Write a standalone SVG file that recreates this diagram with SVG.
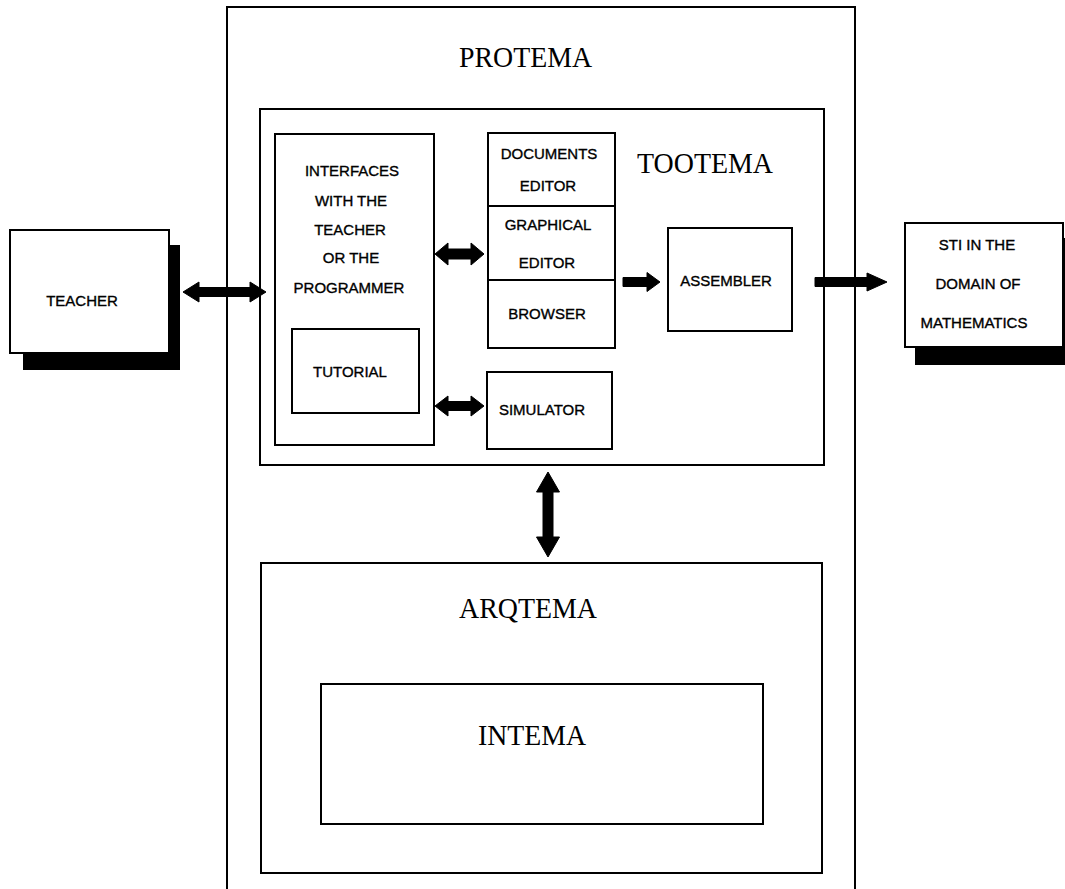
<svg xmlns="http://www.w3.org/2000/svg" width="1065" height="889" viewBox="0 0 1065 889">
<style>
.box{fill:#fff;stroke:#000;stroke-width:2}
.open{fill:none;stroke:#000;stroke-width:2}
.shadow{fill:#000}
.s{font-family:"Liberation Sans",Arial,sans-serif;font-size:15px;fill:#000;stroke:#000;stroke-width:0.35;text-anchor:middle}
.t{font-family:"Liberation Serif","Times New Roman",serif;font-size:30px;fill:#000;text-anchor:middle}
.arrow{fill:#000;stroke:#000;stroke-width:1;stroke-linejoin:round}
</style>
<rect width="1065" height="889" fill="#fff"/>
<g id="protema">
<rect class="open" x="227" y="7" width="628" height="895"/>
<text class="t" x="525.5" y="67" textLength="133" lengthAdjust="spacingAndGlyphs">PROTEMA</text>
</g>
<g id="tootema">
<rect class="box" x="260" y="109" width="564" height="356"/>
<text class="t" x="705" y="173" textLength="136" lengthAdjust="spacingAndGlyphs">TOOTEMA</text>
</g>
<g id="interfaces">
<rect class="box" x="275" y="134" width="159" height="311"/>
<text class="s" x="352" y="176">INTERFACES</text>
<text class="s" x="351" y="206">WITH THE</text>
<text class="s" x="350" y="235">TEACHER</text>
<text class="s" x="351" y="263">OR THE</text>
<text class="s" x="349" y="293">PROGRAMMER</text>
</g>
<g id="tutorial">
<rect class="box" x="292" y="329" width="127" height="84"/>
<text class="s" x="350" y="377">TUTORIAL</text>
</g>
<g id="documents-editor">
<rect class="box" x="488" y="133" width="127" height="73"/>
<text class="s" x="549" y="159">DOCUMENTS</text>
<text class="s" x="548" y="191">EDITOR</text>
</g>
<g id="graphical-editor">
<rect class="box" x="488" y="206" width="127" height="74"/>
<text class="s" x="548" y="230">GRAPHICAL</text>
<text class="s" x="547" y="268">EDITOR</text>
</g>
<g id="browser">
<rect class="box" x="488" y="280" width="127" height="68"/>
<text class="s" x="547" y="319">BROWSER</text>
</g>
<g id="simulator">
<rect class="box" x="487" y="372" width="125" height="77"/>
<text class="s" x="542" y="415">SIMULATOR</text>
</g>
<g id="assembler">
<rect class="box" x="668" y="228" width="124" height="103"/>
<text class="s" x="726" y="286">ASSEMBLER</text>
</g>
<g id="teacher">
<rect class="shadow" x="23" y="245" width="157" height="125"/>
<rect class="box" x="10" y="230" width="159" height="123"/>
<text class="s" x="82" y="306">TEACHER</text>
</g>
<g id="sti">
<rect class="shadow" x="915" y="238" width="160" height="127"/>
<rect class="box" x="905" y="223" width="158" height="124"/>
<text class="s" x="977" y="250">STI IN THE</text>
<text class="s" x="978" y="289">DOMAIN OF</text>
<text class="s" x="974" y="328">MATHEMATICS</text>
</g>
<g id="arqtema">
<rect class="box" x="261" y="563" width="561" height="310"/>
<text class="t" x="528" y="618" textLength="138" lengthAdjust="spacingAndGlyphs">ARQTEMA</text>
</g>
<g id="intema">
<rect class="box" x="321" y="684" width="442" height="140"/>
<text class="t" x="532" y="745" textLength="108" lengthAdjust="spacingAndGlyphs">INTEMA</text>
</g>
<g id="connectors">
<polygon class="arrow" points="183,292 199,282 199,287.5 250,287.5 250,282 266,292 250,302 250,296.5 199,296.5 199,302"/>
<polygon class="arrow" points="435,254 448,243 448,249 471,249 471,243 484,254 471,265 471,259 448,259 448,265"/>
<polygon class="arrow" points="435,406 448,396 448,401.5 471,401.5 471,396 484,406 471,416 471,410.5 448,410.5 448,416"/>
<polygon class="arrow" points="623,277.5 647,277.5 647,272.5 660,282 647,291.5 647,286.5 623,286.5"/>
<polygon class="arrow" points="815,277.5 867,277.5 867,273 887,282 867,291 867,286.5 815,286.5"/>
<polygon class="arrow" points="548,472 559.5,492 553,492 553,537 559.5,537 548,557 536.5,537 543,537 543,492 536.5,492"/>
</g>
</svg>
